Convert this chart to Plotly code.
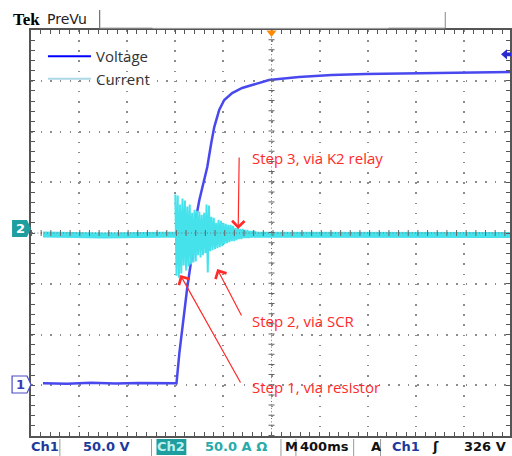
import numpy as np
import plotly.graph_objects as go

# ---------------- data ----------------
# Ch1 voltage: time in s (400 ms/div, trigger at 0), volts
volt_t = [-1.90, -1.70, -1.50, -1.30, -1.10, -0.90, -0.79, -0.766, -0.741, -0.700,
          -0.667, -0.642, -0.600, -0.576, -0.534, -0.501, -0.476, -0.435, -0.393,
          -0.327, -0.244, -0.161, -0.021, 0.228, 0.501, 0.783, 1.056, 1.470, 1.990]
volt_v = [2.0, 1.6, 2.4, 1.8, 2.3, 1.7, 2.0, 31.8, 57.4, 96.8,
          123.4, 155.9, 182.5, 195.3, 215.0, 238.6, 254.4, 271.2, 281.0,
          287.9, 292.9, 295.8, 300.8, 303.7, 305.7, 306.6, 307.1, 307.6, 308.6]

# Ch2 current baseline (A)
cur_base_t = [-1.90, -1.40, -0.90, -0.40, 0.10, 0.60, 1.10, 1.60, 1.99]
cur_base_a = [0.5, -0.5, 0.3, 0.0, -0.3, 0.4, -0.2, 0.3, 0.0]

# Ch2 current inrush burst, sampled every 10 ms from -0.80 s (A)
burst_t0 = -0.80
burst_dt = 0.01
burst_a = [40, -40, 39, -42, 30, -38, 36, -30, 34, -35,
           28, -31, 30, -29, 22, -27, 25, -26, 24, -20,
           23, -22, 20, -20, 22, -18, 30, -37, 29, -16,
           18, -15, 17, -14, 12, -13, 15, -12, 14, -11,
           12, -9, 11, -8, 10, -7, 10, -6, 9, -6,
           7, -5, 7, -4, 6, -4, 6, -3, 5, -3,
           5, -3, 4, -2, 4, -2, 4, -2, 3, -2]
burst_t = burst_t0 + burst_dt * np.arange(len(burst_a))

series_names = ["Voltage", "Current"]
trigger_level = 326

# ---------------- styling ----------------
VOLT_COLOR = "#4848ee"
CUR_COLOR = "#45e2ec"
GRID = "#8c8c8c"
BORDER = "#555555"
RED = "#ff2b2b"
BLUE_TXT = "#1c3a9c"
TEAL = "#1e9e9e"

W, H = 512, 456
ML, MR, MT, MB = 31, 0, 30, 20
PW, PH = W - ML - MR, H - MT - MB


def px(x):
    return (x - ML) / PW


def py(y):
    return 1 - (y - MT) / PH


fig = go.Figure()
fig.add_trace(go.Scatter(x=volt_t, y=volt_v, mode="lines", showlegend=False,
                         line=dict(color=VOLT_COLOR, width=2.5)))
fig.add_trace(go.Scatter(x=cur_base_t, y=cur_base_a, yaxis="y2", mode="lines",
                         showlegend=False, line=dict(color=CUR_COLOR, width=6)))
fig.add_trace(go.Scatter(x=burst_t, y=burst_a, yaxis="y2", mode="lines",
                         showlegend=False, line=dict(color=CUR_COLOR, width=2.0)))
# legend entries
fig.add_trace(go.Scatter(x=[None], y=[None], mode="lines", name=series_names[0],
                         line=dict(color="#0000ff", width=2)))
fig.add_trace(go.Scatter(x=[None], y=[None], mode="lines", name=series_names[1],
                         line=dict(color="#add8e6", width=2)))

axis_common = dict(showgrid=True, gridcolor=GRID, gridwidth=1.5, zeroline=False,
                   showline=True, linecolor=BORDER, linewidth=1.5, mirror="allticks",
                   ticks="inside", ticklen=4, tickcolor=BORDER, tickwidth=1,
                   showticklabels=False, fixedrange=True)

fig.update_layout(
    width=W, height=H,
    margin=dict(l=ML, r=MR, t=MT, b=MB),
    paper_bgcolor="white", plot_bgcolor="white",
    xaxis=dict(range=[-2.0, -2.0 + PW / 120.75], tick0=0, dtick=0.4,
               griddash="1.5px,8.65px",
               minor=dict(dtick=0.08, ticks="inside", ticklen=4, tickcolor=BORDER,
                          showgrid=False),
               **axis_common),
    yaxis=dict(range=[-50, 350], tick0=0, dtick=50,
               griddash="1.5px,8.16px",
               minor=dict(dtick=10, ticks="inside", ticklen=4, tickcolor=BORDER,
                          showgrid=False),
               **axis_common),
    yaxis2=dict(range=[-198, 202], overlaying="y", visible=False, fixedrange=True),
    legend=dict(x=px(43), y=py(40), xanchor="left", yanchor="top",
                bgcolor="rgba(0,0,0,0)", borderwidth=0, itemwidth=43,
                font=dict(family="Open Sans", size=15, color="#333333"),
                tracegroupgap=0),
    font=dict(family="Open Sans"),
)

shapes = []
# centre cross with ticks
shapes.append(dict(type="line", xref="x", yref="paper", x0=0, x1=0, y0=0, y1=1,
                   line=dict(color="#777777", width=1, dash="1px,2.4px")))
shapes.append(dict(type="line", xref="x", yref="paper", x0=0, x1=0, y0=0, y1=1,
                   line=dict(color="#666666", width=6, dash="1px,9.15px")))
shapes.append(dict(type="line", xref="paper", yref="y", x0=0, x1=1, y0=150, y1=150,
                   line=dict(color="#777777", width=1, dash="1px,2.2px")))
shapes.append(dict(type="line", xref="paper", yref="y", x0=0, x1=1, y0=150, y1=150,
                   line=dict(color="#666666", width=6, dash="1px,8.66px")))
# trigger position marker (orange)
shapes.append(dict(type="path", xref="x", yref="paper",
                   path=f"M -0.042,{py(30.5)} L 0.042,{py(30.5)} L 0,{py(37)} Z",
                   fillcolor="#ff8a00", line=dict(width=0)))
# trigger level marker (blue arrow on right)
shapes.append(dict(type="path", xref="paper", yref="y",
                   path=(f"M {px(503)},{trigger_level} L {px(509)},{trigger_level+5} "
                         f"L {px(509)},{trigger_level+1.8} L {px(513)},{trigger_level+1.8} "
                         f"L {px(513)},{trigger_level-1.8} L {px(509)},{trigger_level-1.8} "
                         f"L {px(509)},{trigger_level-5} Z"),
                   fillcolor="#2a2ad0", line=dict(width=0)))
# channel 2 ground marker
shapes.append(dict(type="path", xref="paper", yref="paper",
                   path=(f"M {px(12)},{py(220)} L {px(27)},{py(220)} L {px(31)},{py(228.5)} "
                         f"L {px(27)},{py(237)} L {px(12)},{py(237)} Z"),
                   fillcolor=TEAL, line=dict(width=0)))
# channel 1 ground marker
shapes.append(dict(type="path", xref="paper", yref="paper",
                   path=(f"M {px(12)},{py(376)} L {px(27)},{py(376)} L {px(31)},{py(384.5)} "
                         f"L {px(27)},{py(393)} L {px(12)},{py(393)} Z"),
                   fillcolor="white", line=dict(color="#4a4ac8", width=1.2)))
# header lines
for (x0, y0, x1, y1, c) in [(100, 10, 100, 28, "#555555"), (100, 28, 153, 28, "#aaaaaa"),
                            (153, 28, 390, 28, "#e4e4e4"), (390, 28, 447, 28, "#aaaaaa"),
                            (447, 12, 447, 28, "#888888")]:
    shapes.append(dict(type="line", xref="paper", yref="paper", x0=px(x0), x1=px(x1),
                       y0=py(y0), y1=py(y1), line=dict(color=c, width=1)))
# status-bar separators and Ch2 box
for xs in [60, 152, 282, 297, 355, 382]:
    shapes.append(dict(type="line", xref="paper", yref="paper", x0=px(xs), x1=px(xs),
                       y0=py(439), y1=py(456), line=dict(color="#9a9a9a", width=1)))
shapes.append(dict(type="rect", xref="paper", yref="paper", x0=px(157), x1=px(187),
                   y0=py(439), y1=py(455), fillcolor=TEAL, line=dict(width=0)))
fig.update_layout(shapes=shapes)

ann = []
step_font = dict(family="Open Sans", size=15, color=RED)
ann.append(dict(x=-0.178, y=223.9, xref="x", yref="y", text="Step 3, via K2 relay",
                showarrow=False, xanchor="left", yanchor="middle", font=step_font))
ann.append(dict(x=-0.178, y=63.6, xref="x", yref="y", text="Step 2, via SCR",
                showarrow=False, xanchor="left", yanchor="middle", font=step_font))
ann.append(dict(x=-0.178, y=-1.4, xref="x", yref="y", text="Step 1, via resistor",
                showarrow=False, xanchor="left", yanchor="middle", font=step_font))
for (tx, ty, ax, ay) in [(-0.277, 153.9, 1, -73), (-0.451, 114.5, 25, 48),
                         (-0.758, 108.6, 61, 109)]:
    ann.append(dict(x=tx, y=ty, xref="x", yref="y", text="", showarrow=True,
                    ax=ax, ay=ay, arrowhead=4, arrowsize=2, arrowwidth=1.2,
                    arrowcolor=RED, standoff=0))

# marker labels
ann.append(dict(x=px(20), y=py(228.5), xref="paper", yref="paper", text="<b>2</b>",
                showarrow=False, xanchor="center", yanchor="middle",
                font=dict(family="DejaVu Sans", size=13, color="white")))
ann.append(dict(x=px(20), y=py(384.5), xref="paper", yref="paper", text="<b>1</b>",
                showarrow=False, xanchor="center", yanchor="middle",
                font=dict(family="DejaVu Sans", size=13, color="#3a3ab8")))
# header
ann.append(dict(x=px(11), y=py(19), xref="paper", yref="paper", text="<b>Tek</b>",
                showarrow=False, xanchor="left", yanchor="middle",
                font=dict(family="Liberation Serif", size=17, color="black")))
ann.append(dict(x=px(45), y=py(19), xref="paper", yref="paper", text="PreVu",
                showarrow=False, xanchor="left", yanchor="middle",
                font=dict(family="DejaVu Sans", size=14, color="#222222")))
# status bar
sb_font = dict(family="DejaVu Sans", size=13)
for (xl, txt, col) in [(29, "<b>Ch1</b>", BLUE_TXT), (81, "<b>50.0 V</b>", BLUE_TXT),
                       (204, "<b>50.0 A Ω</b>", "#26aaaa"), (284, "<b>M</b>", "#111111"),
                       (299, "<b>400ms</b>", "#111111"), (370, "<b>A</b>", "#111111"),
                       (392, "<b>Ch1</b>", BLUE_TXT), (432, "<b>ʃ</b>", "#111111")]:
    ann.append(dict(x=px(xl), y=py(447), xref="paper", yref="paper", text=txt,
                    showarrow=False, xanchor="left", yanchor="middle",
                    font=dict(color=col, **sb_font)))
ann.append(dict(x=px(510), y=py(447), xref="paper", yref="paper", text="<b>326 V</b>",
                showarrow=False, xanchor="right", yanchor="middle",
                font=dict(color="#111111", **sb_font)))
ann.append(dict(x=px(172), y=py(447), xref="paper", yref="paper", text="<b>Ch2</b>",
                showarrow=False, xanchor="center", yanchor="middle",
                font=dict(color="#bff0ee", **sb_font)))
fig.update_layout(annotations=ann)

# remove the browser's default 8 px page margin so the 512x456 figure fills the window
fig.write_html("out.html", config={"displayModeBar": False},
               post_script="document.body.style.margin='0';document.body.style.overflow='hidden';")
